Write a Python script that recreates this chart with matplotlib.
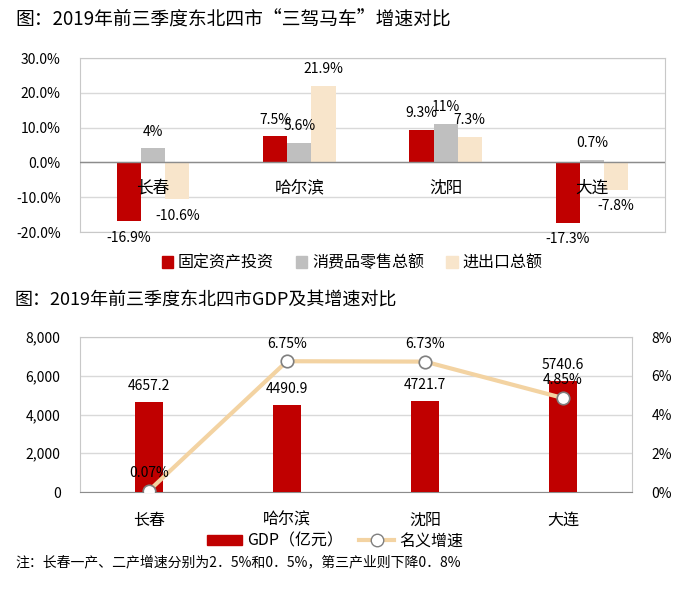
import matplotlib.pyplot as plt
import numpy as np
from matplotlib.lines import Line2D
from matplotlib.patches import Patch

plt.rcParams['font.family'] = ['Noto Sans CJK SC', 'DejaVu Sans']

# 数据
cities = ['长春', '哈尔滨', '沈阳', '大连']
touzi = [-16.9, 7.5, 9.3, -17.3]
xiaofei = [4, 5.6, 11, 0.7]
jinchukou = [-10.6, 21.9, 7.3, -7.8]
xiaofei_txt = ['4%', '5.6%', '11%', '0.7%']
gdp = [4657.2, 4490.9, 4721.7, 5740.6]
zengsu = [0.07, 6.75, 6.73, 4.85]

rojo = '#C00000'
gris = '#BFBFBF'
beige = '#F8E5CB'
linea = '#F3D3A2'
rejilla = '#D9D9D9'

W, H = 688, 593
fig = plt.figure(figsize=(W / 100, H / 100), dpi=100)

def caja(x0, y0, x1, y1):
    return [x0 / W, 1 - y1 / H, (x1 - x0) / W, (y1 - y0) / H]

# ---------- grafico 1 ----------
fig.text(15 / W, 1 - 20 / H, '图：2019年前三季度东北四市“三驾马车”增速对比',
         fontsize=13.5, va='center', ha='left')

ax = fig.add_axes(caja(80, 58, 665, 232))
x = np.arange(len(cities))
w = 0.165
ax.bar(x - w, touzi, w, color=rojo, zorder=3)
ax.bar(x, xiaofei, w, color=gris, zorder=3)
ax.bar(x + w, jinchukou, w, color=beige, zorder=3)
ax.set_xlim(-0.5, 3.5)
ax.set_ylim(-20, 30)
ax.set_yticks(np.arange(-20, 31, 10))
ax.set_yticklabels(['%.1f%%' % v for v in np.arange(-20, 31, 10)], fontsize=10)
ax.set_xticks([])
ax.tick_params(axis='y', length=0, pad=14)
ax.grid(axis='y', color=rejilla, lw=1, zorder=0)
ax.axhline(0, color='#8C8C8C', lw=1, zorder=4)
for s in ax.spines.values():
    s.set_color('#C8C8C8')
for i, c in enumerate(cities):
    ax.text(i, -7.5, c, ha='center', va='center', fontsize=12, zorder=5)

def etiqueta(ax, xi, v, txt, off):
    if v >= 0:
        ax.text(xi, v + off, txt, ha='center', va='bottom', fontsize=10, zorder=5)
    else:
        ax.text(xi, v - off, txt, ha='center', va='top', fontsize=10, zorder=5)

for i in range(len(cities)):
    etiqueta(ax, i - w, touzi[i], '%g%%' % touzi[i], 2.8)
    etiqueta(ax, i, xiaofei[i], xiaofei_txt[i], 2.8)
    etiqueta(ax, i + w, jinchukou[i], '%g%%' % jinchukou[i], 2.8)

hs = [Patch(color=rojo), Patch(color=gris), Patch(color=beige)]
fig.legend(hs, ['固定资产投资', '消费品零售总额', '进出口总额'], loc='center',
           bbox_to_anchor=(352 / W, 1 - 263 / H), ncol=3, frameon=False,
           fontsize=11.5, handlelength=0.7, handleheight=0.7, handletextpad=0.3,
           columnspacing=1.4)

# ---------- grafico 2 ----------
fig.text(15 / W, 1 - 300 / H, '图：2019年前三季度东北四市GDP及其增速对比',
         fontsize=13, va='center', ha='left')

ax2 = fig.add_axes(caja(80, 337, 632, 492))
ax2.bar(x, gdp, 0.2, color=rojo, zorder=3)
ax2.set_xlim(-0.5, 3.5)
ax2.set_ylim(0, 8000)
ax2.set_yticks(np.arange(0, 8001, 2000))
ax2.set_yticklabels(['{:,}'.format(v) for v in range(0, 8001, 2000)], fontsize=10)
ax2.set_xticks(x)
ax2.set_xticklabels(cities, fontsize=11.5)
ax2.tick_params(axis='x', length=0, pad=14)
ax2.tick_params(axis='y', length=0, pad=14)
ax2.grid(axis='y', color=rejilla, lw=1, zorder=0)
for s in ax2.spines.values():
    s.set_color('#C8C8C8')
ax2.spines['bottom'].set_color('#8C8C8C')
for i, v in enumerate(gdp):
    ax2.text(i, v + 450, '%.1f' % v, ha='center', va='bottom', fontsize=10, zorder=5)

ax3 = ax2.twinx()
ax3.plot(x, zengsu, color=linea, lw=3, marker='o', markersize=9,
         markerfacecolor='white', markeredgecolor='#7F7F7F', markeredgewidth=1.2, zorder=6)
ax3.set_ylim(0, 8)
ax3.set_yticks(np.arange(0, 9, 2))
ax3.set_yticklabels(['%d%%' % v for v in range(0, 9, 2)], fontsize=10)
ax3.tick_params(axis='y', length=0, pad=14)
for s in ax3.spines.values():
    s.set_visible(False)
for i, v in enumerate(zengsu):
    ax3.text(i, v + 0.55, '%.2f%%' % v, ha='center', va='bottom', fontsize=10, zorder=7)

hs2 = [Patch(color=rojo),
       Line2D([], [], color=linea, lw=3, marker='o', markersize=9,
              markerfacecolor='white', markeredgecolor='#7F7F7F')]
fig.legend(hs2, ['GDP（亿元）', '名义增速'], loc='center',
           bbox_to_anchor=(335 / W, 1 - 541 / H), ncol=2, frameon=False,
           fontsize=11.5, handlelength=2.2, handleheight=0.6, handletextpad=0.3,
           columnspacing=1.0)

fig.text(15 / W, 1 - 562 / H, '注：长春一产、二产增速分别为2．5%和0．5%，第三产业则下降0．8%',
         fontsize=10, va='center', ha='left')

fig.savefig('out.png', dpi=100)
